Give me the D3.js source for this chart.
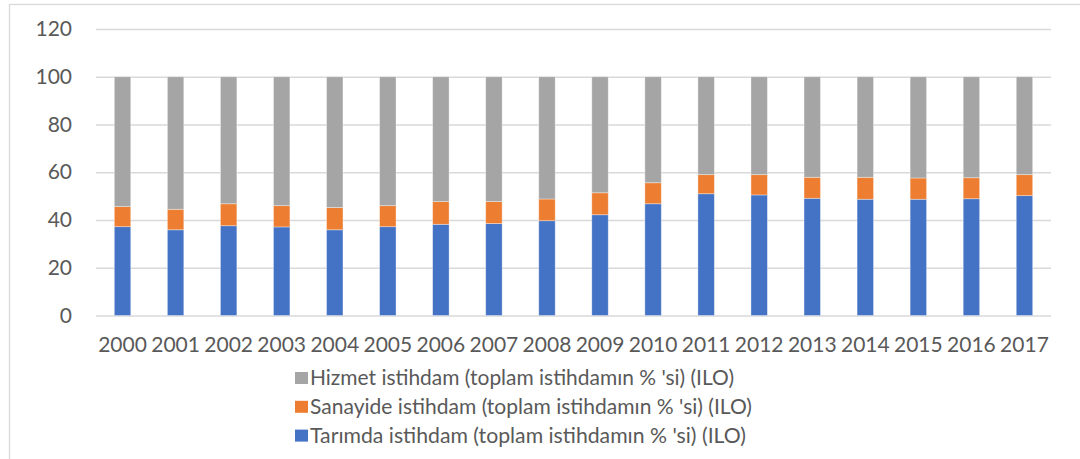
<!DOCTYPE html>
<html>
<head>
<meta charset="utf-8">
<script src="https://cdn.jsdelivr.net/npm/d3@7/dist/d3.min.js"></script>
<style>
  html, body { margin: 0; padding: 0; background: #fff; }
  svg { display: block; }
  text { font-family: Lato, "Open Sans", sans-serif; fill: #595959; }
</style>
</head>
<body>
<svg id="chart"></svg>
<script>
// years on the x axis
const years = ["2000", "2001", "2002", "2003", "2004", "2005", "2006", "2007", "2008",
  "2009", "2010", "2011", "2012", "2013", "2014", "2015", "2016", "2017"];

// employment shares, % of total
const tarim = [37.2, 35.9, 37.6, 37.1, 35.9, 37.2, 38.2, 38.5, 39.7,
  42.2, 46.8, 51.0, 50.5, 49.1, 48.7, 48.7, 48.9, 50.2];
const sanayi = [8.4, 8.6, 9.2, 8.9, 9.3, 8.8, 9.5, 9.2, 9.1,
  9.2, 8.8, 8.0, 8.5, 8.8, 9.2, 8.9, 8.8, 8.8];
const hizmet = [54.4, 55.5, 53.2, 54.0, 54.8, 54.0, 52.3, 52.3, 51.2,
  48.6, 44.4, 41.0, 41.0, 42.1, 42.1, 42.4, 42.3, 41.0];

const yTicks = [0, 20, 40, 60, 80, 100, 120];

const seriesNames = [
  "Tarımda istihdam (toplam istihdamın % 'si) (ILO)",
  "Sanayide istihdam (toplam istihdamın % 'si) (ILO)",
  "Hizmet istihdam (toplam istihdamın % 'si) (ILO)"
];
const colors = ["#4472C4", "#ED7D31", "#A5A5A5"];

const width = 1080, height = 459;
const svg = d3.select("#chart").attr("width", width).attr("height", height);

// outer chart frame
svg.append("rect")
  .attr("x", 9.5).attr("y", 4.5)
  .attr("width", 1200).attr("height", 600)
  .attr("fill", "none").attr("stroke", "#D9D9D9").attr("stroke-width", 1.3);

const x = d3.scaleBand().domain(years).range([96, 1051])
  .paddingInner(0.69).paddingOuter(0.345);
const y = d3.scaleLinear().domain([0, 120]).range([315.5, 29]);

// gridlines + y labels
const yAxis = svg.append("g")
  .attr("transform", "translate(96,0)")
  .call(d3.axisLeft(y).tickValues(yTicks).tickSize(-955).tickPadding(24));
yAxis.select(".domain").remove();
yAxis.selectAll(".tick line").attr("stroke", "#D9D9D9").attr("stroke-width", 1.3);
yAxis.selectAll(".tick text")
  .style("font-size", "21px").attr("fill", "#595959")
  .style("font-family", "Lato, 'Open Sans', sans-serif");

// stacked bars
const rows = years.map((yr, i) => ({ year: yr, t: tarim[i], s: sanayi[i], h: hizmet[i] }));
const stack = d3.stack().keys(["t", "s", "h"])(rows);

svg.append("g").selectAll("g")
  .data(stack)
  .join("g")
  .attr("fill", (d, i) => colors[i])
  .selectAll("rect")
  .data(d => d)
  .join("rect")
  .attr("x", d => x(d.data.year))
  .attr("width", x.bandwidth())
  .attr("y", d => y(d[1]))
  .attr("height", d => y(d[0]) - y(d[1]))
  .attr("stroke", "#fff").attr("stroke-opacity", 0.45).attr("stroke-width", 0.8);

// x labels
const xAxis = svg.append("g")
  .attr("transform", "translate(0,315.5)")
  .call(d3.axisBottom(x).tickSize(0).tickPadding(22));
xAxis.select(".domain").remove();
xAxis.selectAll(".tick text")
  .style("font-size", "21px").attr("fill", "#595959")
  .style("font-family", "Lato, 'Open Sans', sans-serif");

// legend, gray on top
const legendOrder = [2, 1, 0];
const legendLen = [424, 442, 436];
const leg = svg.append("g").selectAll("g")
  .data(legendOrder)
  .join("g")
  .attr("transform", (d, i) => `translate(295,${372 + i * 28.8})`);
leg.append("rect")
  .attr("width", 13).attr("height", 12)
  .attr("fill", d => colors[d]);
leg.append("text")
  .attr("x", 15).attr("y", 13)
  .style("font-size", "22px")
  .attr("textLength", (d, i) => legendLen[i])
  .attr("lengthAdjust", "spacingAndGlyphs")
  .text(d => seriesNames[d]);
</script>
</body>
</html>
